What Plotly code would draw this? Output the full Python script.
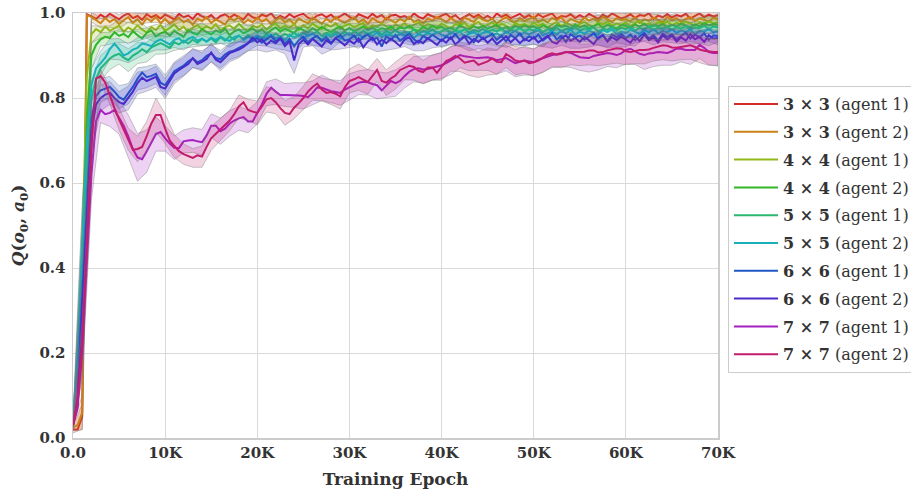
import plotly.graph_objects as go

# ---------------- data ----------------
EPOCHS = [500 * i for i in range(141)]          # 0 .. 70000
X_TICKS = [0, 10000, 20000, 30000, 40000, 50000, 60000, 70000]
X_TICK_TEXT = ["0.0", "10K", "20K", "30K", "40K", "50K", "60K", "70K"]
Y_TICKS = [0.0, 0.2, 0.4, 0.6, 0.8, 1.0]

LABELS = ["3 × 3|agent 1", "3 × 3|agent 2", "4 × 4|agent 1", "4 × 4|agent 2",
          "5 × 5|agent 1", "5 × 5|agent 2", "6 × 6|agent 1", "6 × 6|agent 2",
          "7 × 7|agent 1", "7 × 7|agent 2"]

Q_3A1 = [0.020, 0.020, 0.050, 0.997, 0.992, 0.986, 0.996, 0.989, 0.998, 0.991,
         0.985, 0.994, 0.999, 0.988, 0.993, 0.984, 0.997, 0.990, 0.995, 0.987,
         0.996, 0.991, 0.985, 0.998, 0.990, 0.994, 0.986, 0.999, 0.992, 0.988,
         0.995, 0.984, 0.993, 0.997, 0.989, 0.996, 0.991, 0.985, 0.998, 0.990,
         0.987, 0.996, 0.992, 0.999, 0.986, 0.993, 0.988, 0.997, 0.990, 0.995,
         0.998, 0.989, 0.985, 0.994, 0.997, 0.990, 0.996, 0.987, 0.992, 0.999,
         0.991, 0.986, 0.997, 0.993, 0.988, 0.998, 0.990, 0.995, 0.985, 0.994,
         0.996, 0.990, 0.993, 0.986, 0.999, 0.991, 0.987, 0.997, 0.992, 0.988,
         0.994, 0.998, 0.989, 0.995, 0.985, 0.992, 0.997, 0.990, 0.996, 0.987,
         0.993, 0.986, 0.999, 0.991, 0.996, 0.988, 0.994, 0.998, 0.989, 0.995,
         0.987, 0.997, 0.990, 0.994, 0.999, 0.986, 0.993, 0.991, 0.997, 0.988,
         0.995, 0.989, 0.998, 0.992, 0.986, 0.996, 0.990, 0.999, 0.993, 0.987,
         0.991, 0.997, 0.988, 0.995, 0.993, 0.999, 0.986, 0.994, 0.990, 0.997,
         0.989, 0.995, 0.992, 0.998, 0.987, 0.994, 0.999, 0.990, 0.996, 0.992,
         0.995]

Q_3A2 = [0.025, 0.030, 0.060, 0.995, 0.991, 0.984, 0.976, 0.988, 0.979, 0.986,
         0.974, 0.983, 0.990, 0.977, 0.985, 0.973, 0.988, 0.980, 0.991, 0.976,
         0.986, 0.975, 0.982, 0.989, 0.978, 0.984, 0.972, 0.987, 0.981, 0.990,
         0.977, 0.985, 0.979, 0.973, 0.988, 0.982, 0.991, 0.976, 0.984, 0.978,
         0.989, 0.980, 0.986, 0.974, 0.983, 0.990, 0.978, 0.985, 0.973, 0.987,
         0.981, 0.976, 0.989, 0.983, 0.975, 0.986, 0.979, 0.991, 0.982, 0.977,
         0.984, 0.990, 0.978, 0.985, 0.974, 0.988, 0.981, 0.976, 0.989, 0.983,
         0.977, 0.986, 0.980, 0.991, 0.979, 0.984, 0.975, 0.987, 0.982, 0.990,
         0.985, 0.978, 0.988, 0.981, 0.976, 0.989, 0.983, 0.979, 0.991, 0.984,
         0.980, 0.987, 0.975, 0.984, 0.990, 0.982, 0.977, 0.988, 0.981, 0.986,
         0.991, 0.979, 0.985, 0.978, 0.988, 0.983, 0.990, 0.976, 0.986, 0.981,
         0.978, 0.989, 0.982, 0.987, 0.980, 0.991, 0.984, 0.979, 0.988, 0.983,
         0.986, 0.980, 0.990, 0.977, 0.985, 0.982, 0.989, 0.984, 0.978, 0.991,
         0.983, 0.988, 0.979, 0.986, 0.990, 0.981, 0.987, 0.984, 0.980, 0.989,
         0.985]

Q_4A1 = [0.030, 0.100, 0.450, 0.850, 0.950, 0.962, 0.955, 0.968, 0.958, 0.964,
         0.970, 0.956, 0.966, 0.959, 0.971, 0.961, 0.954, 0.967, 0.960, 0.972,
         0.958, 0.965, 0.973, 0.960, 0.968, 0.955, 0.966, 0.972, 0.961, 0.969,
         0.963, 0.974, 0.959, 0.967, 0.971, 0.962, 0.975, 0.964, 0.958, 0.970,
         0.966, 0.973, 0.961, 0.969, 0.976, 0.963, 0.970, 0.965, 0.974, 0.960,
         0.971, 0.964, 0.975, 0.967, 0.962, 0.973, 0.968, 0.976, 0.963, 0.970,
         0.974, 0.966, 0.972, 0.977, 0.964, 0.971, 0.967, 0.975, 0.969, 0.962,
         0.973, 0.968, 0.976, 0.965, 0.972, 0.978, 0.967, 0.974, 0.970, 0.966,
         0.975, 0.969, 0.963, 0.974, 0.971, 0.977, 0.966, 0.973, 0.979, 0.968,
         0.972, 0.978, 0.967, 0.975, 0.970, 0.964, 0.976, 0.971, 0.974, 0.968,
         0.977, 0.970, 0.975, 0.966, 0.973, 0.979, 0.969, 0.976, 0.972, 0.967,
         0.974, 0.980, 0.971, 0.968, 0.977, 0.973, 0.979, 0.970, 0.975, 0.972,
         0.978, 0.969, 0.976, 0.981, 0.972, 0.975, 0.970, 0.978, 0.974, 0.980,
         0.971, 0.977, 0.973, 0.979, 0.975, 0.970, 0.978, 0.974, 0.981, 0.976,
         0.978]

Q_4A2 = [0.030, 0.080, 0.400, 0.750, 0.900, 0.925, 0.938, 0.944, 0.941, 0.955,
         0.946, 0.951, 0.943, 0.957, 0.948, 0.940, 0.953, 0.959, 0.945, 0.952,
         0.956, 0.947, 0.958, 0.951, 0.944, 0.960, 0.953, 0.949, 0.962, 0.955,
         0.950, 0.959, 0.954, 0.963, 0.948, 0.957, 0.961, 0.952, 0.958, 0.964,
         0.955, 0.962, 0.951, 0.960, 0.966, 0.956, 0.963, 0.958, 0.953, 0.965,
         0.960, 0.954, 0.964, 0.958, 0.967, 0.961, 0.955, 0.963, 0.968, 0.959,
         0.965, 0.957, 0.962, 0.969, 0.960, 0.966, 0.958, 0.964, 0.961, 0.968,
         0.959, 0.966, 0.963, 0.970, 0.961, 0.958, 0.967, 0.962, 0.969, 0.964,
         0.968, 0.961, 0.966, 0.959, 0.971, 0.965, 0.962, 0.969, 0.964, 0.970,
         0.963, 0.968, 0.972, 0.962, 0.967, 0.960, 0.970, 0.965, 0.971, 0.966,
         0.969, 0.963, 0.971, 0.966, 0.962, 0.972, 0.967, 0.970, 0.964, 0.973,
         0.966, 0.971, 0.964, 0.969, 0.974, 0.965, 0.972, 0.968, 0.963, 0.971,
         0.970, 0.965, 0.973, 0.968, 0.975, 0.966, 0.971, 0.969, 0.974, 0.967,
         0.972, 0.968, 0.975, 0.970, 0.966, 0.973, 0.969, 0.976, 0.971, 0.974,
         0.972]

Q_5A1 = [0.030, 0.100, 0.380, 0.650, 0.800, 0.845, 0.870, 0.882, 0.893, 0.900,
         0.904, 0.895, 0.889, 0.900, 0.906, 0.915, 0.908, 0.919, 0.925, 0.929,
         0.924, 0.918, 0.931, 0.926, 0.935, 0.928, 0.937, 0.930, 0.939, 0.933,
         0.940, 0.931, 0.943, 0.935, 0.945, 0.937, 0.946, 0.940, 0.948, 0.939,
         0.947, 0.941, 0.950, 0.943, 0.952, 0.944, 0.951, 0.945, 0.953, 0.946,
         0.954, 0.947, 0.951, 0.956, 0.946, 0.953, 0.949, 0.957, 0.950, 0.955,
         0.948, 0.956, 0.951, 0.958, 0.950, 0.954, 0.959, 0.949, 0.957, 0.952,
         0.960, 0.951, 0.956, 0.953, 0.961, 0.950, 0.958, 0.954, 0.962, 0.953,
         0.957, 0.963, 0.952, 0.959, 0.955, 0.962, 0.954, 0.960, 0.956, 0.963,
         0.955, 0.961, 0.957, 0.964, 0.953, 0.960, 0.958, 0.965, 0.956, 0.962,
         0.959, 0.965, 0.955, 0.962, 0.958, 0.966, 0.957, 0.963, 0.960, 0.967,
         0.958, 0.964, 0.961, 0.967, 0.956, 0.963, 0.960, 0.968, 0.959, 0.965,
         0.962, 0.967, 0.958, 0.965, 0.961, 0.969, 0.960, 0.966, 0.963, 0.968,
         0.960, 0.967, 0.963, 0.969, 0.961, 0.966, 0.964, 0.970, 0.962, 0.968,
         0.966]

Q_5A2 = [0.040, 0.200, 0.450, 0.700, 0.830, 0.870, 0.882, 0.895, 0.915, 0.928,
         0.915, 0.900, 0.905, 0.914, 0.918, 0.928, 0.926, 0.922, 0.933, 0.938,
         0.932, 0.926, 0.937, 0.941, 0.930, 0.939, 0.944, 0.935, 0.940, 0.933,
         0.942, 0.936, 0.945, 0.938, 0.934, 0.943, 0.947, 0.937, 0.944, 0.939,
         0.946, 0.938, 0.943, 0.949, 0.940, 0.945, 0.936, 0.948, 0.942, 0.950,
         0.941, 0.947, 0.952, 0.943, 0.938, 0.949, 0.945, 0.951, 0.940, 0.948,
         0.953, 0.944, 0.949, 0.942, 0.951, 0.946, 0.954, 0.943, 0.950, 0.947,
         0.944, 0.952, 0.947, 0.955, 0.942, 0.950, 0.946, 0.953, 0.948, 0.956,
         0.949, 0.945, 0.954, 0.950, 0.957, 0.944, 0.951, 0.955, 0.947, 0.953,
         0.958, 0.948, 0.952, 0.946, 0.956, 0.951, 0.959, 0.949, 0.954, 0.950,
         0.955, 0.960, 0.948, 0.953, 0.957, 0.950, 0.958, 0.952, 0.961, 0.949,
         0.956, 0.951, 0.959, 0.954, 0.949, 0.960, 0.955, 0.962, 0.950, 0.957,
         0.953, 0.961, 0.956, 0.951, 0.960, 0.954, 0.963, 0.952, 0.958, 0.955,
         0.962, 0.953, 0.959, 0.955, 0.961, 0.950, 0.958, 0.956, 0.963, 0.954,
         0.958]

Q_6A1 = [0.030, 0.090, 0.340, 0.560, 0.750, 0.805, 0.818, 0.822, 0.826, 0.815,
         0.802, 0.796, 0.810, 0.826, 0.845, 0.860, 0.849, 0.852, 0.857, 0.836,
         0.830, 0.846, 0.863, 0.870, 0.876, 0.886, 0.893, 0.884, 0.889, 0.899,
         0.905, 0.894, 0.891, 0.902, 0.909, 0.912, 0.918, 0.923, 0.929, 0.936,
         0.941, 0.930, 0.938, 0.946, 0.933, 0.942, 0.928, 0.939, 0.922, 0.936,
         0.944, 0.931, 0.940, 0.947, 0.934, 0.943, 0.929, 0.941, 0.948, 0.935,
         0.938, 0.947, 0.932, 0.944, 0.950, 0.936, 0.942, 0.921, 0.945, 0.937,
         0.948, 0.935, 0.943, 0.951, 0.938, 0.930, 0.946, 0.939, 0.949, 0.941,
         0.934, 0.945, 0.939, 0.950, 0.936, 0.947, 0.942, 0.931, 0.949, 0.938,
         0.944, 0.951, 0.937, 0.946, 0.933, 0.948, 0.941, 0.952, 0.936, 0.945,
         0.940, 0.949, 0.935, 0.943, 0.953, 0.938, 0.946, 0.932, 0.950, 0.942,
         0.947, 0.937, 0.945, 0.952, 0.939, 0.948, 0.934, 0.950, 0.943, 0.951,
         0.941, 0.949, 0.936, 0.945, 0.953, 0.940, 0.948, 0.935, 0.951, 0.944,
         0.950, 0.938, 0.946, 0.954, 0.940, 0.949, 0.943, 0.952, 0.937, 0.947,
         0.946]

Q_6A2 = [0.030, 0.080, 0.300, 0.520, 0.720, 0.785, 0.800, 0.808, 0.812, 0.800,
         0.790, 0.786, 0.800, 0.815, 0.835, 0.848, 0.840, 0.845, 0.850, 0.826,
         0.822, 0.840, 0.858, 0.866, 0.873, 0.880, 0.894, 0.880, 0.885, 0.892,
         0.907, 0.890, 0.884, 0.896, 0.906, 0.910, 0.914, 0.920, 0.929, 0.942,
         0.931, 0.938, 0.925, 0.935, 0.929, 0.940, 0.922, 0.934, 0.888, 0.927,
         0.937, 0.926, 0.939, 0.930, 0.921, 0.936, 0.928, 0.941, 0.932, 0.924,
         0.935, 0.928, 0.940, 0.919, 0.933, 0.942, 0.926, 0.937, 0.929, 0.940,
         0.931, 0.922, 0.938, 0.943, 0.927, 0.935, 0.929, 0.941, 0.933, 0.925,
         0.938, 0.930, 0.943, 0.926, 0.936, 0.944, 0.928, 0.939, 0.932, 0.942,
         0.930, 0.940, 0.927, 0.937, 0.945, 0.931, 0.941, 0.929, 0.939, 0.934,
         0.943, 0.931, 0.938, 0.946, 0.932, 0.928, 0.940, 0.947, 0.935, 0.941,
         0.932, 0.944, 0.936, 0.927, 0.942, 0.948, 0.933, 0.943, 0.936, 0.945,
         0.937, 0.930, 0.945, 0.934, 0.949, 0.936, 0.942, 0.931, 0.947, 0.938,
         0.946, 0.933, 0.943, 0.935, 0.950, 0.938, 0.944, 0.932, 0.948, 0.940,
         0.941]

Q_7A1 = [0.030, 0.070, 0.200, 0.420, 0.620, 0.745, 0.772, 0.762, 0.765, 0.772,
         0.755, 0.735, 0.710, 0.680, 0.660, 0.656, 0.675, 0.695, 0.715, 0.720,
         0.705, 0.693, 0.683, 0.682, 0.698, 0.700, 0.701, 0.698, 0.696, 0.712,
         0.735, 0.735, 0.722, 0.728, 0.740, 0.747, 0.752, 0.755, 0.745, 0.745,
         0.765, 0.785, 0.810, 0.824, 0.815, 0.807, 0.807, 0.807, 0.807, 0.806,
         0.805, 0.802, 0.812, 0.825, 0.824, 0.820, 0.816, 0.814, 0.812, 0.820,
         0.826, 0.832, 0.836, 0.838, 0.837, 0.833, 0.830, 0.818, 0.830, 0.840,
         0.835, 0.840, 0.852, 0.862, 0.868, 0.870, 0.867, 0.868, 0.871, 0.874,
         0.877, 0.882, 0.888, 0.895, 0.901, 0.898, 0.896, 0.895, 0.894, 0.895,
         0.896, 0.893, 0.889, 0.891, 0.894, 0.888, 0.882, 0.885, 0.888, 0.886,
         0.884, 0.890, 0.894, 0.898, 0.901, 0.903, 0.906, 0.908, 0.906, 0.900,
         0.896, 0.895, 0.894, 0.899, 0.901, 0.904, 0.906, 0.904, 0.901, 0.905,
         0.913, 0.916, 0.910, 0.904, 0.901, 0.905, 0.906, 0.908, 0.907, 0.906,
         0.910, 0.916, 0.916, 0.913, 0.913, 0.913, 0.925, 0.918, 0.908, 0.906,
         0.906]

Q_7A2 = [0.030, 0.090, 0.220, 0.460, 0.680, 0.845, 0.852, 0.836, 0.805, 0.776,
         0.750, 0.725, 0.703, 0.678, 0.680, 0.685, 0.710, 0.740, 0.760, 0.760,
         0.728, 0.700, 0.687, 0.675, 0.668, 0.663, 0.659, 0.665, 0.662, 0.685,
         0.705, 0.716, 0.726, 0.737, 0.747, 0.762, 0.780, 0.790, 0.772, 0.768,
         0.765, 0.780, 0.797, 0.800, 0.790, 0.776, 0.765, 0.762, 0.777, 0.788,
         0.800, 0.815, 0.826, 0.834, 0.820, 0.812, 0.814, 0.810, 0.804, 0.825,
         0.840, 0.844, 0.849, 0.843, 0.838, 0.852, 0.866, 0.840, 0.836, 0.846,
         0.853, 0.866, 0.872, 0.876, 0.873, 0.864, 0.861, 0.872, 0.872, 0.859,
         0.874, 0.887, 0.892, 0.899, 0.893, 0.883, 0.886, 0.888, 0.878, 0.882,
         0.886, 0.893, 0.885, 0.884, 0.903, 0.897, 0.888, 0.886, 0.888, 0.882,
         0.884, 0.888, 0.894, 0.902, 0.905, 0.902, 0.904, 0.908, 0.908, 0.908,
         0.908, 0.909, 0.912, 0.912, 0.907, 0.908, 0.912, 0.914, 0.917, 0.916,
         0.910, 0.908, 0.911, 0.913, 0.913, 0.914, 0.918, 0.921, 0.924, 0.923,
         0.919, 0.918, 0.920, 0.921, 0.924, 0.920, 0.914, 0.911, 0.909, 0.908,
         0.908]

# band half-widths, one per 1000 epochs (0 .. 70000)
HW_3A1 = [0.008, 0.030, 0.008, 0.010, 0.009, 0.011, 0.008, 0.010, 0.012, 0.009,
          0.010, 0.012, 0.009, 0.011, 0.008, 0.010, 0.012, 0.009, 0.011, 0.010,
          0.009, 0.011, 0.010, 0.012, 0.008, 0.010, 0.011, 0.009, 0.012, 0.010,
          0.011, 0.009, 0.010, 0.012, 0.008, 0.011, 0.010, 0.009, 0.012, 0.010,
          0.009, 0.011, 0.012, 0.010, 0.008, 0.011, 0.009, 0.010, 0.012, 0.010,
          0.011, 0.009, 0.010, 0.012, 0.009, 0.011, 0.008, 0.010, 0.011, 0.009,
          0.010, 0.012, 0.009, 0.011, 0.010, 0.008, 0.011, 0.012, 0.009, 0.010,
          0.010]
HW_3A2 = [0.008, 0.040, 0.012, 0.011, 0.013, 0.010, 0.012, 0.014, 0.011, 0.013,
          0.012, 0.010, 0.013, 0.011, 0.014, 0.012, 0.010, 0.013, 0.011, 0.012,
          0.014, 0.011, 0.012, 0.010, 0.013, 0.012, 0.014, 0.011, 0.010, 0.013,
          0.011, 0.013, 0.012, 0.010, 0.014, 0.012, 0.011, 0.013, 0.010, 0.012,
          0.013, 0.011, 0.010, 0.014, 0.012, 0.011, 0.013, 0.012, 0.010, 0.013,
          0.011, 0.014, 0.012, 0.010, 0.013, 0.011, 0.012, 0.014, 0.010, 0.012,
          0.013, 0.011, 0.012, 0.010, 0.014, 0.012, 0.011, 0.013, 0.012, 0.011,
          0.012]
HW_4A1 = [0.008, 0.080, 0.020, 0.014, 0.012, 0.013, 0.011, 0.014, 0.012, 0.013,
          0.011, 0.012, 0.014, 0.010, 0.013, 0.012, 0.011, 0.013, 0.012, 0.010,
          0.013, 0.011, 0.012, 0.014, 0.010, 0.012, 0.013, 0.011, 0.012, 0.010,
          0.012, 0.013, 0.011, 0.010, 0.013, 0.012, 0.011, 0.012, 0.013, 0.010,
          0.011, 0.012, 0.010, 0.013, 0.011, 0.012, 0.010, 0.012, 0.011, 0.013,
          0.010, 0.011, 0.013, 0.010, 0.012, 0.011, 0.010, 0.012, 0.011, 0.010,
          0.012, 0.010, 0.011, 0.013, 0.010, 0.011, 0.012, 0.010, 0.011, 0.010,
          0.011]
HW_4A2 = [0.008, 0.100, 0.030, 0.016, 0.014, 0.015, 0.013, 0.014, 0.012, 0.015,
          0.013, 0.014, 0.012, 0.013, 0.015, 0.012, 0.013, 0.014, 0.012, 0.013,
          0.012, 0.014, 0.013, 0.011, 0.013, 0.012, 0.014, 0.011, 0.013, 0.012,
          0.011, 0.013, 0.012, 0.014, 0.011, 0.012, 0.013, 0.011, 0.012, 0.013,
          0.012, 0.011, 0.013, 0.012, 0.010, 0.012, 0.013, 0.011, 0.012, 0.010,
          0.012, 0.013, 0.011, 0.012, 0.010, 0.011, 0.013, 0.012, 0.010, 0.012,
          0.011, 0.012, 0.010, 0.011, 0.013, 0.011, 0.010, 0.012, 0.011, 0.012,
          0.011]
HW_5A1 = [0.008, 0.100, 0.040, 0.030, 0.026, 0.024, 0.027, 0.025, 0.023, 0.022,
          0.020, 0.019, 0.018, 0.017, 0.016, 0.016, 0.015, 0.016, 0.014, 0.015,
          0.014, 0.013, 0.015, 0.014, 0.013, 0.012, 0.014, 0.013, 0.012, 0.013,
          0.012, 0.013, 0.011, 0.012, 0.013, 0.012, 0.011, 0.012, 0.013, 0.011,
          0.012, 0.011, 0.012, 0.010, 0.012, 0.011, 0.012, 0.010, 0.011, 0.012,
          0.011, 0.010, 0.012, 0.011, 0.010, 0.011, 0.012, 0.010, 0.011, 0.010,
          0.011, 0.012, 0.010, 0.011, 0.010, 0.011, 0.012, 0.010, 0.011, 0.010,
          0.011]
HW_5A2 = [0.008, 0.100, 0.040, 0.028, 0.024, 0.025, 0.022, 0.024, 0.021, 0.020,
          0.019, 0.018, 0.017, 0.018, 0.016, 0.015, 0.016, 0.014, 0.015, 0.014,
          0.013, 0.014, 0.013, 0.012, 0.014, 0.013, 0.012, 0.013, 0.012, 0.011,
          0.013, 0.012, 0.011, 0.012, 0.013, 0.011, 0.012, 0.011, 0.012, 0.013,
          0.011, 0.012, 0.010, 0.012, 0.011, 0.013, 0.011, 0.012, 0.010, 0.011,
          0.012, 0.011, 0.010, 0.012, 0.011, 0.010, 0.012, 0.011, 0.010, 0.011,
          0.012, 0.010, 0.011, 0.012, 0.010, 0.011, 0.010, 0.012, 0.011, 0.010,
          0.011]
HW_6A1 = [0.008, 0.080, 0.050, 0.028, 0.025, 0.027, 0.024, 0.026, 0.025, 0.023,
          0.024, 0.022, 0.023, 0.021, 0.022, 0.020, 0.021, 0.019, 0.020, 0.018,
          0.017, 0.016, 0.017, 0.015, 0.016, 0.015, 0.016, 0.014, 0.015, 0.016,
          0.014, 0.015, 0.016, 0.014, 0.015, 0.013, 0.015, 0.014, 0.016, 0.014,
          0.015, 0.013, 0.014, 0.016, 0.014, 0.015, 0.013, 0.014, 0.015, 0.013,
          0.014, 0.015, 0.013, 0.014, 0.016, 0.014, 0.013, 0.015, 0.014, 0.013,
          0.015, 0.014, 0.013, 0.014, 0.015, 0.013, 0.014, 0.013, 0.015, 0.014,
          0.014]
HW_6A2 = [0.008, 0.080, 0.050, 0.030, 0.027, 0.025, 0.028, 0.026, 0.024, 0.025,
          0.023, 0.024, 0.022, 0.023, 0.021, 0.022, 0.020, 0.021, 0.019, 0.018,
          0.018, 0.017, 0.016, 0.018, 0.030, 0.017, 0.016, 0.018, 0.015, 0.017,
          0.016, 0.018, 0.015, 0.017, 0.016, 0.015, 0.017, 0.016, 0.018, 0.015,
          0.017, 0.016, 0.015, 0.017, 0.016, 0.018, 0.015, 0.016, 0.017, 0.015,
          0.016, 0.017, 0.015, 0.016, 0.018, 0.015, 0.016, 0.017, 0.015, 0.016,
          0.017, 0.015, 0.016, 0.017, 0.015, 0.016, 0.015, 0.017, 0.016, 0.015,
          0.016]
HW_7A1 = [0.008, 0.060, 0.060, 0.030, 0.032, 0.040, 0.050, 0.056, 0.050, 0.040,
          0.030, 0.028, 0.027, 0.029, 0.030, 0.028, 0.031, 0.030, 0.028, 0.027,
          0.026, 0.028, 0.030, 0.027, 0.029, 0.031, 0.028, 0.030, 0.027, 0.029,
          0.031, 0.028, 0.030, 0.032, 0.029, 0.031, 0.028, 0.030, 0.032, 0.029,
          0.031, 0.033, 0.030, 0.032, 0.029, 0.031, 0.033, 0.030, 0.032, 0.034,
          0.031, 0.033, 0.030, 0.032, 0.034, 0.031, 0.033, 0.035, 0.032, 0.030,
          0.033, 0.031, 0.034, 0.032, 0.030, 0.033, 0.031, 0.034, 0.032, 0.030,
          0.031]
HW_7A2 = [0.008, 0.060, 0.050, 0.015, 0.020, 0.025, 0.026, 0.030, 0.035, 0.040,
          0.035, 0.027, 0.024, 0.022, 0.025, 0.028, 0.026, 0.024, 0.027, 0.025,
          0.028, 0.030, 0.027, 0.029, 0.026, 0.028, 0.031, 0.027, 0.029, 0.030,
          0.028, 0.031, 0.029, 0.027, 0.030, 0.032, 0.029, 0.031, 0.028, 0.030,
          0.032, 0.029, 0.031, 0.033, 0.030, 0.032, 0.029, 0.031, 0.033, 0.030,
          0.032, 0.034, 0.031, 0.033, 0.030, 0.032, 0.034, 0.031, 0.033, 0.035,
          0.032, 0.030, 0.033, 0.031, 0.034, 0.032, 0.030, 0.033, 0.031, 0.032,
          0.031]

MEANS = [Q_3A1, Q_3A2, Q_4A1, Q_4A2, Q_5A1, Q_5A2, Q_6A1, Q_6A2, Q_7A1, Q_7A2]
HWS = [HW_3A1, HW_3A2, HW_4A1, HW_4A2, HW_5A1, HW_5A2, HW_6A1, HW_6A2, HW_7A1, HW_7A2]
COLORS = ["#d62a2a", "#c98318", "#93b81a", "#31b52b", "#27b86d",
          "#1ab0b9", "#1f58c6", "#4b2bc8", "#a520c2", "#c21c6e"]

FONT = "DejaVu Serif"


def rgba(hex_color, a):
    h = hex_color.lstrip("#")
    r, g, b = int(h[0:2], 16), int(h[2:4], 16), int(h[4:6], 16)
    return f"rgba({r},{g},{b},{a})"


fig = go.Figure()
BAND_X = EPOCHS[::2]
for k, (m, hw, c, lab) in enumerate(zip(MEANS, HWS, COLORS, LABELS)):
    mb = m[::2]
    upper = [v + h for v, h in zip(mb, hw)]
    lower = [v - h for v, h in zip(mb, hw)]
    fig.add_trace(go.Scatter(
        x=BAND_X + BAND_X[::-1], y=upper + lower[::-1],
        fill="toself", fillcolor=rgba(c, 0.2),
        line=dict(color="rgba(120,120,120,0.5)", width=0.8),
        hoverinfo="skip", showlegend=False, legendgroup=f"g{k}"))
    size, agent = lab.split("|")
    fig.add_trace(go.Scatter(
        x=EPOCHS, y=m, mode="lines",
        line=dict(color=c, width=2),
        name=f"<b>{size}</b> ({agent})", legendgroup=f"g{k}"))

fig.update_layout(
    width=911, height=493,
    margin=dict(l=73, r=193, t=13, b=55, autoexpand=False),
    paper_bgcolor="white", plot_bgcolor="white",
    font=dict(family=FONT, color="#333333", size=15),
    showlegend=True,
    legend=dict(x=1.0155, y=0.828, xanchor="left", yanchor="top",
                bordercolor="#cccccc", borderwidth=1, bgcolor="white",
                font=dict(family=FONT, size=16, color="#333333"),
                tracegroupgap=4, itemwidth=44),
    xaxis=dict(range=[0, 70000], tickvals=X_TICKS,
               ticktext=[f"<b>{t}</b>" for t in X_TICK_TEXT],
               showgrid=True, gridcolor="#d9d9d9", gridwidth=1,
               showline=True, mirror=True, linecolor="#cccccc", linewidth=1.5,
               zeroline=False, ticks="", ticklabelstandoff=0, automargin=False,
               tickfont=dict(family=FONT, size=15, color="#333333"),
               title=dict(text="<b>Training Epoch</b>", standoff=12,
                          font=dict(family=FONT, size=17, color="#333333"))),
    yaxis=dict(range=[0, 1.0], tickvals=Y_TICKS,
               ticktext=[f"<b>{v:.1f}</b>" for v in Y_TICKS],
               showgrid=True, gridcolor="#d9d9d9", gridwidth=1,
               showline=True, mirror=True, linecolor="#cccccc", linewidth=1.5,
               zeroline=False, ticks="", ticklabelstandoff=3, automargin=False,
               tickfont=dict(family=FONT, size=15, color="#333333"),
               title=dict(text="<b><i>Q</i>(<i>o</i><sub>0</sub>, <i>a</i><sub>0</sub>)</b>",
                          standoff=10,
                          font=dict(family=FONT, size=17, color="#333333"))),
)

fig.write_html("out.html",
               config={"displayModeBar": False, "staticPlot": True},
               post_script="document.body.style.margin='0px';"
                           "document.documentElement.style.overflow='hidden';")
